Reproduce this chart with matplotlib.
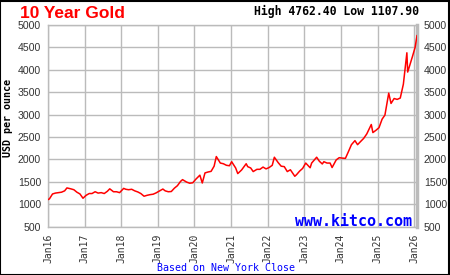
import matplotlib
matplotlib.use("Agg")
import matplotlib.pyplot as plt
from matplotlib.patches import Rectangle
import pandas as pd

# ---- data ----
dates = [
    "2016-01-01", "2016-01-15", "2016-02-15", "2016-03-15", "2016-04-15", "2016-05-15", "2016-06-15",
    "2016-07-08", "2016-08-15", "2016-09-15", "2016-10-15", "2016-11-15", "2016-12-15",
    "2017-01-15", "2017-02-15", "2017-03-15", "2017-04-15", "2017-05-15", "2017-06-15",
    "2017-07-15", "2017-08-15", "2017-09-08", "2017-10-15", "2017-11-15", "2017-12-15",
    "2018-01-25", "2018-02-15", "2018-03-15", "2018-04-15", "2018-05-15", "2018-06-15",
    "2018-07-15", "2018-08-16", "2018-09-15", "2018-10-15", "2018-11-15", "2018-12-15",
    "2019-01-15", "2019-02-20", "2019-03-15", "2019-04-15", "2019-05-15", "2019-06-15",
    "2019-07-15", "2019-08-15", "2019-09-04", "2019-10-15", "2019-11-15", "2019-12-15",
    "2020-01-15", "2020-02-24", "2020-03-19", "2020-04-15", "2020-05-15", "2020-06-15",
    "2020-07-15", "2020-08-06", "2020-09-15", "2020-10-15", "2020-11-15", "2020-12-15",
    "2021-01-06", "2021-02-15", "2021-03-08", "2021-04-15", "2021-05-31", "2021-06-15",
    "2021-07-15", "2021-08-09", "2021-09-15", "2021-10-15", "2021-11-15", "2021-12-15",
    "2022-01-15", "2022-02-15", "2022-03-08", "2022-04-15", "2022-05-15", "2022-06-15",
    "2022-07-15", "2022-08-15", "2022-09-28", "2022-10-15", "2022-11-15", "2022-12-15",
    "2023-01-15", "2023-02-28", "2023-03-15", "2023-05-04", "2023-05-31", "2023-06-29",
    "2023-07-15", "2023-08-15", "2023-09-15", "2023-10-05", "2023-11-15", "2023-12-15",
    "2024-01-15", "2024-02-15", "2024-03-15", "2024-04-15", "2024-05-20", "2024-06-15",
    "2024-07-15", "2024-08-15", "2024-09-15", "2024-10-30", "2024-11-15", "2024-12-15",
    "2025-01-15", "2025-02-15", "2025-03-15", "2025-04-22", "2025-05-15", "2025-06-15",
    "2025-07-15", "2025-08-15", "2025-09-15", "2025-10-20", "2025-10-28", "2025-11-15",
    "2025-12-15", "2026-01-10", "2026-01-29",
]
prices = [
    1105, 1120, 1230, 1250, 1260, 1270, 1300,
    1365, 1345, 1325, 1270, 1230, 1135,
    1200, 1240, 1240, 1280, 1250, 1260,
    1240, 1290, 1345, 1280, 1280, 1260,
    1355, 1335, 1325, 1335, 1300, 1275,
    1240, 1180, 1200, 1215, 1225, 1255,
    1295, 1340, 1300, 1280, 1285, 1360,
    1415, 1510, 1550, 1495, 1470, 1480,
    1560, 1650, 1475, 1700, 1720, 1735,
    1850, 2065, 1920, 1905, 1870, 1860,
    1950, 1810, 1685, 1765, 1905, 1840,
    1810, 1730, 1780, 1780, 1830, 1790,
    1820, 1870, 2050, 1930, 1850, 1840,
    1730, 1770, 1625, 1660, 1740, 1800,
    1920, 1815, 1920, 2050, 1960, 1900,
    1950, 1920, 1920, 1820, 1990, 2040,
    2030, 2025, 2170, 2330, 2420, 2330,
    2400, 2470, 2570, 2780, 2600, 2650,
    2710, 2900, 2990, 3480, 3250, 3360,
    3340, 3370, 3680, 4380, 3950, 4080,
    4300, 4500, 4762,
]
y_ticks = [500, 1000, 1500, 2000, 2500, 3000, 3500, 4000, 4500, 5000]
x_tick_years = list(range(2016, 2027))
x_tick_labels = ["Jan%02d" % (y % 100) for y in x_tick_years]
title = "10 Year Gold"
header = "High 4762.40 Low 1107.90"
ylabel = "USD per ounce"
footer = "Based on New York Close"
brand = "www.kitco.com"

# ---- figure ----
fig = plt.figure(figsize=(4.5, 2.75), dpi=100)
W, H = 450, 275
L, R, T, B = 48, 417, 25, 226.7
ax = fig.add_axes([L / W, 1 - B / H, (R - L) / W, (B - T) / H])

x = pd.to_datetime(dates)
ax.plot(x, prices, color="#ff0000", lw=1.1, zorder=3)

ax.set_xlim(pd.Timestamp("2016-01-01"), pd.Timestamp("2026-01-29"))
ax.set_ylim(500, 5000)
xt = [pd.Timestamp("%d-01-01" % y) for y in x_tick_years]
ax.set_xticks(xt)
ax.set_xticklabels(x_tick_labels, rotation=90, family="DejaVu Sans Mono",
                   fontsize=7.0, color="#333333", va="top")
ax.set_yticks(y_ticks)
ax.set_yticklabels([str(v) for v in y_ticks], family="Liberation Sans",
                   fontsize=7.6, color="#333333")
ax.tick_params(axis="both", length=0, pad=5)
ax.tick_params(axis="y", labelright=True, right=False, pad=5)
ax.grid(True, color="#bbbbbb", lw=1.0, zorder=0)
for s in ["left", "top", "bottom"]:
    ax.spines[s].set_color("#bbbbbb")
    ax.spines[s].set_linewidth(1.0)
ax.spines["right"].set_color("#bbbbbb")
ax.spines["right"].set_linewidth(2.5)

fig.text(20 / W, 1 - 18.5 / H, title, color="#ff0000", family="Liberation Sans",
         fontweight="bold", fontsize=12.5, ha="left", va="baseline")
fig.text(419 / W, 1 - 15 / H, header, color="black", family="DejaVu Sans Mono",
         fontweight="bold", fontsize=8.3, ha="right", va="baseline")
fig.text(8 / W, 1 - 118 / H, ylabel, color="black", family="DejaVu Sans Mono",
         fontweight="bold", fontsize=7.2, rotation=90, ha="center", va="center")
fig.text(226 / W, 1 - 268 / H, footer, color="#0000ff", family="DejaVu Sans Mono",
         fontsize=7.2, ha="center", va="center")
fig.text(412 / W, 1 - 222 / H, brand, color="#0000ff", family="DejaVu Sans Mono",
         fontweight="bold", fontsize=10.8, ha="right", va="center")

fig.patches.append(Rectangle((0.001, 0.001), 0.997, 0.997, transform=fig.transFigure,
                             fill=False, edgecolor="black", lw=1.5))

fig.savefig("out.png", dpi=100)
